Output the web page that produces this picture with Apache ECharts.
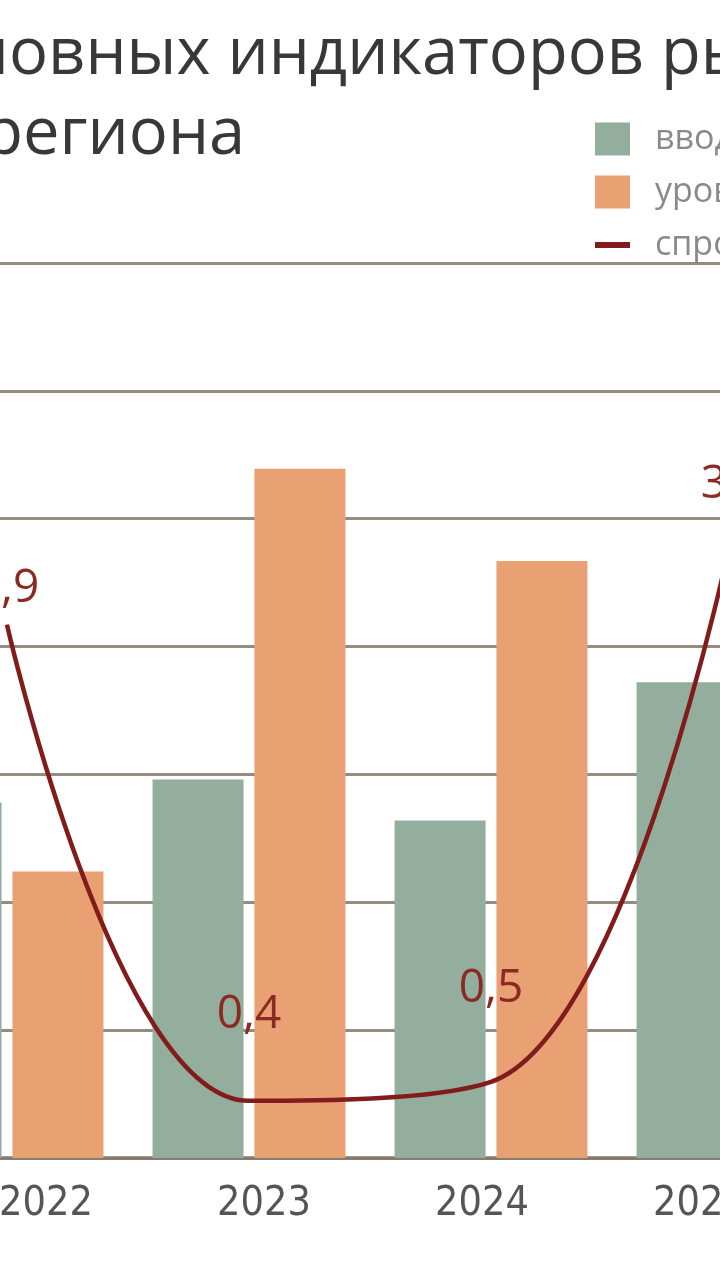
<!DOCTYPE html>
<html lang="ru">
<head>
<meta charset="utf-8">
<title>Динамика основных индикаторов рынка</title>
<script src="https://cdn.jsdelivr.net/npm/echarts@6/dist/echarts.min.js"></script>
<style>
  html, body { margin: 0; padding: 0; width: 720px; height: 1280px; overflow: hidden; background: #fff; }
  /* кадр вырезан из широкого графика: сдвигаем полотно влево */
  #chart { position: absolute; left: -300px; top: 0; width: 1400px; height: 1280px; }
</style>
</head>
<body>
<div id="chart"></div>
<script>
// данные с картинки
var years = ['2022', '2023', '2024', '2025']
var housing = [2.78, 2.96, 2.64, 3.72]   // ввод жилья
var prices = [2.24, 5.39, 4.67, null]    // уровень цен (2025 за краем кадра)
var demand = [2.9, 0.4, 0.5, 3.4]        // спрос
var seriesNames = ['ввод жилья, млн кв. м', 'уровень цен, тыс. руб./кв. м', 'спрос на жильё, млн кв. м']
var titleLines = ['Динамика основных индикаторов рынка', 'недвижимости региона']

var shift = 300
var ctx = document.createElement('canvas').getContext('2d')
ctx.font = '65px "Open Sans"'
var t1x = shift + 9 - ctx.measureText('Динамика осн').width
var t2x = shift + 23 - ctx.measureText('недвижимости р').width

var gridColor = '#968b7f'
var labelGap = [12, 62, 69, 21]

var myChart = echarts.init(document.getElementById('chart'))
var option = {
  animation: false,
  graphic: [
    { type: 'text', x: t1x, y: 55, style: { text: titleLines[0], fontSize: 65, fontFamily: 'Open Sans', fill: '#383838', verticalAlign: 'middle' } },
    { type: 'text', x: t2x, y: 135, style: { text: titleLines[1], fontSize: 65, fontFamily: 'Open Sans', fill: '#383838', verticalAlign: 'middle' } }
  ],
  legend: {
    orient: 'vertical',
    left: shift + 590,
    top: 117,
    itemWidth: 35,
    itemHeight: 33,
    itemGap: 19,
    textStyle: { fontSize: 34, color: '#8a8a8a', fontFamily: 'Open Sans', padding: [0, 0, 0, 20] },
    data: [
      { name: seriesNames[0], icon: 'rect' },
      { name: seriesNames[1], icon: 'rect' },
      { name: seriesNames[2], icon: 'path://M0,0H30V5H0Z' }
    ]
  },
  grid: [
    { left: 186, width: 968, top: 263, bottom: 122 },
    { left: shift - 63, width: 872, top: 263, bottom: 122 }
  ],
  xAxis: [
    {
      type: 'category', gridIndex: 0, data: years,
      axisTick: { show: false },
      axisLabel: { show: false },
      axisLine: { lineStyle: { color: '#85786d', width: 3.5 } }
    },
    {
      type: 'category', gridIndex: 1, data: years,
      axisTick: { show: false },
      axisLine: { show: false },
      axisLabel: { margin: 26, fontSize: 41, color: '#555', fontFamily: '"Liberation Sans Narrow", "DejaVu Sans Condensed", "Open Sans"' }
    }
  ],
  yAxis: [
    {
      type: 'value', gridIndex: 0, min: 0, max: 7, interval: 1,
      axisLabel: { show: false }, axisLine: { show: false }, axisTick: { show: false },
      splitLine: { lineStyle: { color: gridColor, width: 3 } }
    },
    { type: 'value', gridIndex: 0, min: 0.1, max: 4.8, interval: 0.1, show: false, splitLine: { show: false } },
    { type: 'value', gridIndex: 1, min: 0, max: 1, show: false, splitLine: { show: false } }
  ],
  series: [
    {
      name: seriesNames[0], type: 'bar', data: housing,
      barWidth: 91, barGap: '12%',
      itemStyle: { color: '#93ae9c' }
    },
    {
      name: seriesNames[1], type: 'bar', data: prices,
      barWidth: 91,
      itemStyle: { color: '#e9a073' }
    },
    {
      name: seriesNames[2], type: 'line', yAxisIndex: 1,
      smooth: 0.4,
      symbol: 'circle', symbolSize: 1,
      lineStyle: { color: '#821b1b', width: 4.5 },
      itemStyle: { color: '#821b1b' },
      label: {
        show: true, position: 'top',
        fontSize: 46, color: '#8b2a22', fontFamily: 'Open Sans',
        formatter: function (p) { return String(p.value).replace('.', ',') }
      },
      data: demand.map(function (v, i) {
        return { value: v, label: { distance: labelGap[i] } }
      })
    }
  ]
}
myChart.setOption(option)
</script>
</body>
</html>
